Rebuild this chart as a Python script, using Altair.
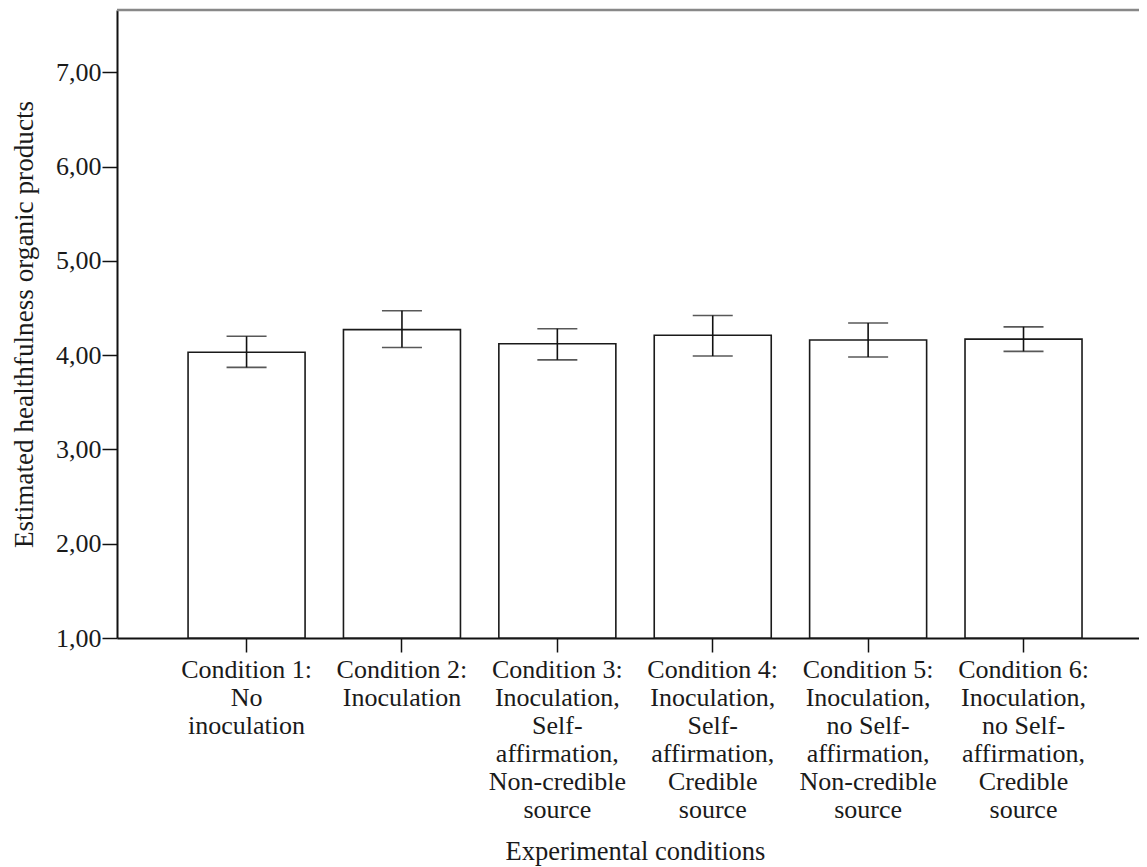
import altair as alt
import pandas as pd

# ---- data ----
conditions = [
    "Condition 1:|No|inoculation",
    "Condition 2:|Inoculation",
    "Condition 3:|Inoculation,|Self-|affirmation,|Non-credible|source",
    "Condition 4:|Inoculation,|Self-|affirmation,|Credible|source",
    "Condition 5:|Inoculation,|no Self-|affirmation,|Non-credible|source",
    "Condition 6:|Inoculation,|no Self-|affirmation,|Credible|source",
]
means = [4.03, 4.27, 4.12, 4.21, 4.16, 4.17]
upper = [4.20, 4.47, 4.28, 4.42, 4.34, 4.30]
lower = [3.87, 4.08, 3.95, 3.99, 3.98, 4.04]
y_ticks = [1, 2, 3, 4, 5, 6, 7]
y_min, y_max = 1.0, 7.66

df = pd.DataFrame({"condition": conditions, "mean": means, "hi": upper, "lo": lower})

FONT = "Liberation Serif"
W, H = 1022, 628
TXT = "#1a1a1a"

x_enc = alt.X(
    "condition:N",
    sort=conditions,
    scale=alt.Scale(paddingInner=0.247, paddingOuter=0.412, align=0.555),
    axis=alt.Axis(
        title="Experimental conditions",
        labelExpr="split(datum.label, '|')",
        labelAngle=0,
        labelBaseline="top",
        labelAlign="center",
        labelLineHeight=28,
        labelPadding=4.5,
        labelOverlap=False,
        labelLimit=400,
        labelFont=FONT,
        labelFontSize=26,
        labelColor=TXT,
        tickSize=14,
        tickWidth=1.5,
        tickColor="#111",
        domainColor="#111",
        domainWidth=2,
        titleX=518,
        titleY=221,
        titleAlign="center",
        titleBaseline="alphabetic",
        titleFont=FONT,
        titleFontSize=26.5,
        titleFontWeight="normal",
        titleColor=TXT,
    ),
)

y_scale = alt.Scale(domain=[y_min, y_max], zero=False, nice=False)
y_axis = alt.Axis(
    title="Estimated healthfulness organic products",
    values=y_ticks,
    labelExpr="replace(format(datum.value, '.2f'), '.', ',')",
    labelFont=FONT,
    labelFontSize=26,
    labelColor=TXT,
    tickSize=15,
    tickWidth=1.5,
    tickColor="#111",
    domainColor="#111",
    domainWidth=2,
    labelPadding=1,
    labelOverlap=False,
    grid=False,
    titleAngle=270,
    titleX=-85,
    titleY=314,
    titleAlign="center",
    titleBaseline="alphabetic",
    titleFont=FONT,
    titleFontSize=27.2,
    titleFontWeight="normal",
    titleColor=TXT,
)

base = alt.Chart(df)

bars = base.mark_bar(fill="white", stroke="#1a1a1a", strokeWidth=1.6).encode(
    x=x_enc,
    y=alt.Y("mean:Q", scale=y_scale, axis=y_axis),
    y2=alt.datum(y_min),
)

err = base.mark_rule(color="#111", strokeWidth=1.6).encode(
    x=alt.X("condition:N", sort=conditions),
    y=alt.Y("lo:Q"),
    y2="hi:Q",
)
cap_hi = base.mark_tick(color="#111", size=40, thickness=1.6, orient="horizontal").encode(
    x=alt.X("condition:N", sort=conditions), y=alt.Y("hi:Q")
)
cap_lo = base.mark_tick(color="#111", size=40, thickness=1.6, orient="horizontal").encode(
    x=alt.X("condition:N", sort=conditions), y=alt.Y("lo:Q")
)

top_border = alt.Chart(pd.DataFrame({"top": [y_max]})).mark_rule(
    color="#888888", strokeWidth=2.5
).encode(y=alt.Y("top:Q"), x=alt.value(0), x2=alt.value(W))

chart = (
    alt.layer(bars, err, cap_hi, cap_lo, top_border)
    .properties(
        width=W,
        height=H,
        background="white",
        autosize=alt.AutoSizeParams(type="none"),
        padding={"left": 109, "top": 2, "right": 0, "bottom": 229},
    )
    .configure_view(stroke=None)
)

chart.save("out.html", embed_options={"renderer": "svg", "actions": False})
